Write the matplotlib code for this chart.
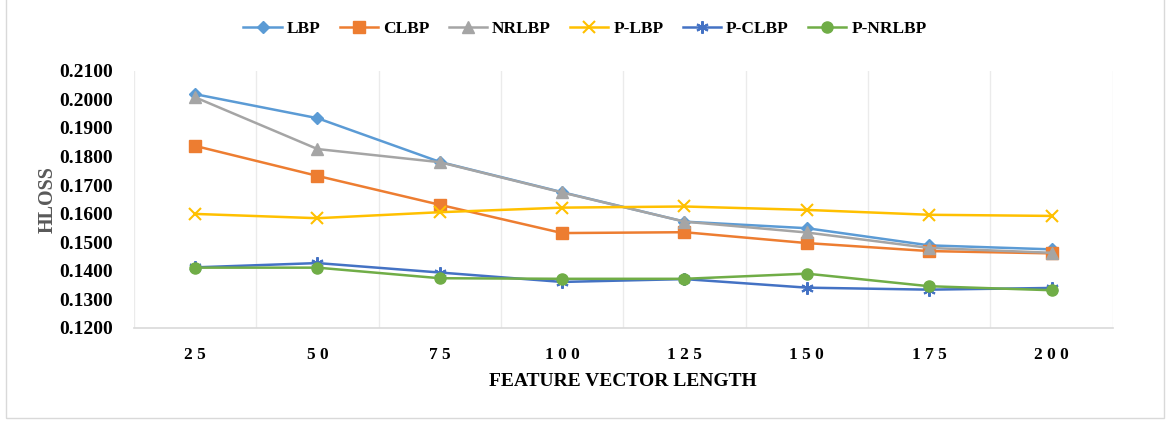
import matplotlib
matplotlib.use("Agg")
import matplotlib.pyplot as plt
from matplotlib.patches import Rectangle

categories = [25, 50, 75, 100, 125, 150, 175, 200]
tick_labels = ["2 5", "5 0", "7 5", "1 0 0", "1 2 5", "1 5 0", "1 7 5", "2 0 0"]
lbp = [0.2018, 0.1934, 0.1781, 0.1675, 0.1572, 0.1549, 0.1489, 0.1475]
clbp = [0.1837, 0.1732, 0.1631, 0.1532, 0.1535, 0.1497, 0.1469, 0.1461]
nrlbp = [0.2007, 0.1826, 0.1780, 0.1674, 0.1572, 0.1534, 0.1480, 0.1463]
p_lbp = [0.1599, 0.1584, 0.1605, 0.1621, 0.1625, 0.1613, 0.1596, 0.1592]
p_clbp = [0.1412, 0.1427, 0.1394, 0.1361, 0.1371, 0.1341, 0.1334, 0.1340]
p_nrlbp = [0.1411, 0.1411, 0.1374, 0.1372, 0.1372, 0.1390, 0.1346, 0.1332]

series = [
    ("LBP", lbp, "#5B9BD5", "D", 6),
    ("CLBP", clbp, "#ED7D31", "s", 8),
    ("NRLBP", nrlbp, "#A5A5A5", "^", 8),
    ("P-LBP", p_lbp, "#FFC000", "x", 8),
    ("P-CLBP", p_clbp, "#4472C4", (6, 2, 0), 9),
    ("P-NRLBP", p_nrlbp, "#70AD47", "o", 8),
]

plt.rcParams['font.family'] = ['Liberation Serif', 'DejaVu Serif']
fig = plt.figure(figsize=(11.7, 4.21), dpi=100)
ax = fig.add_axes([0.1145, 0.221, 0.8365, 0.611])

x = list(range(len(categories)))
for name, vals, color, m, ms in series:
    ax.plot(x, vals, color=color, marker=m, markersize=ms, linewidth=1.8,
            label=name, markeredgewidth=1.5 if m in ("x", (6, 2, 0)) else 1)

ax.set_xlim(-0.5, len(categories) - 0.5)
ax.set_ylim(0.12, 0.21)
ax.set_yticks([0.12 + 0.01 * i for i in range(10)])
ax.set_yticklabels([f"{0.12 + 0.01 * i:.4f}" for i in range(10)], fontsize=14, fontweight='bold')
ax.set_xticks(x)
ax.set_xticklabels(tick_labels, fontsize=12.5, fontweight='bold')
ax.set_xticks([i + 0.5 for i in range(-1, len(categories))], minor=True)
ax.grid(True, which='minor', axis='x', color='#EBEBEB', linewidth=1)
ax.tick_params(axis='both', which='both', length=0)
ax.tick_params(axis='x', pad=14)
ax.tick_params(axis='y', pad=15)
for s in ['top', 'right', 'left']:
    ax.spines[s].set_visible(False)
ax.spines['bottom'].set_color('#D9D9D9')
ax.spines['bottom'].set_linewidth(1.2)
ax.set_xlabel("FEATURE VECTOR LENGTH", fontsize=14, fontweight='bold', labelpad=7)
ax.set_ylabel("HLOSS", fontsize=14.5, fontweight='bold', color='#595959', labelpad=1)

fig.legend(loc='center', bbox_to_anchor=(0.5, 0.932), ncol=6, frameon=False,
           prop={'weight': 'bold', 'size': 12.5}, handlelength=2.2, columnspacing=1.1,
           handletextpad=0.3)

fig.patches.append(Rectangle((6 / 1170, 3 / 421), 1158 / 1170, 420 / 421,
                             transform=fig.transFigure, fill=False,
                             edgecolor='#D9D9D9', linewidth=1))

fig.savefig("out.png", dpi=100)
